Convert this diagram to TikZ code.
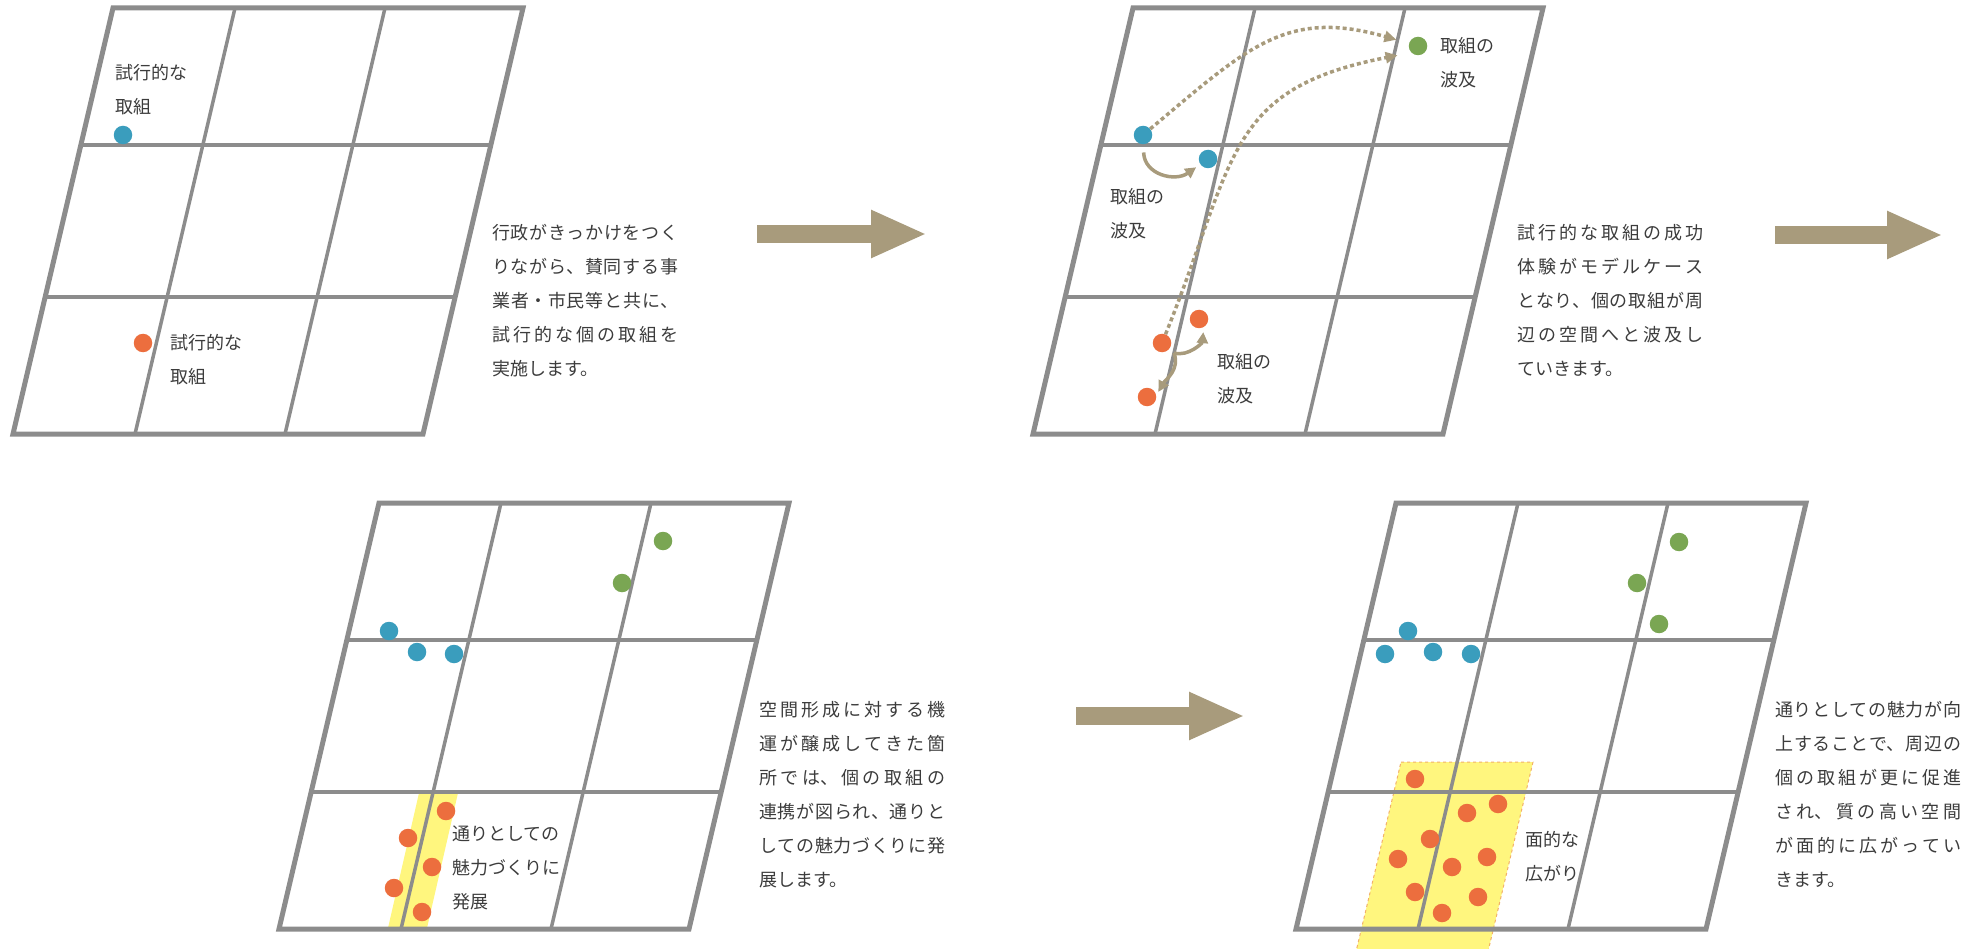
\documentclass[tikz,border=0pt]{standalone}
\usepackage{fontspec}
\usetikzlibrary{arrows.meta}
\newfontfamily\jpfont{Noto Sans CJK JP}
\XeTeXlinebreaklocale "ja"
\XeTeXlinebreakskip=0pt plus 4pt

\definecolor{gridgray}{HTML}{8C8C8C}
\definecolor{dotblue}{HTML}{3A9DBD}
\definecolor{dotorange}{HTML}{EC6E3E}
\definecolor{dotgreen}{HTML}{7AA653}
\definecolor{arrowtan}{HTML}{A89B7C}
\definecolor{bandyellow}{HTML}{FFF67E}
\definecolor{banddash}{HTML}{F2B06A}
\definecolor{textgray}{HTML}{3C3C3C}

\begin{document}
\begin{tikzpicture}[x=1pt, y=-1pt]
        \tikzstyle{grid_outer}=[draw=gridgray, line width=5pt, line join=miter];
        \tikzstyle{grid_inner}=[draw=gridgray, line width=3.5pt];
        \tikzstyle{dot_blue}=[circle, inner sep=0, minimum size=18.5pt, fill=dotblue];
        \tikzstyle{dot_orange}=[circle, inner sep=0, minimum size=18.5pt, fill=dotorange];
        \tikzstyle{dot_green}=[circle, inner sep=0, minimum size=18.5pt, fill=dotgreen];
        \tikzstyle{item_text}=[anchor=north west, inner sep=0, align=left, text=textgray, font=\jpfont\fontsize{18}{34}\selectfont];
        \tikzstyle{desc_text}=[anchor=north west, inner sep=0, text width=186pt, align=justify, text=textgray, font=\jpfont\fontsize{18}{34}\selectfont];
        \tikzstyle{big_arrow}=[line width=18pt, color=arrowtan, -{Triangle[length=56pt,width=44pt]}];
        \tikzstyle{spread_dotted}=[line width=3.5pt, color=arrowtan, dash pattern=on 4pt off 3pt, -{Triangle[length=12pt,width=11pt]}];
        \tikzstyle{spread_solid}=[line width=3.5pt, color=arrowtan, -{Triangle[length=11pt,width=11pt]}];

        \useasboundingbox (0,0) rectangle (1985,949);

        % yellow bands
        \fill[bandyellow] (419,793) -- (458,793) -- (427,928) -- (388,928) -- cycle;
        \filldraw[fill=bandyellow, draw=banddash, dashed, line width=1pt] (1401,762) -- (1533,762) -- (1486,960) -- (1354,960) -- cycle;

        % grids
        \foreach \px/\py in {113/8, 1133/8, 379/503, 1396/503}{
          \begin{scope}[shift={(\px,\py)}]
            \draw[grid_inner] (122,0) -- (22,426);
            \draw[grid_inner] (272,0) -- (172,426);
            \draw[grid_inner] (-32.2,137) -- (377.8,137);
            \draw[grid_inner] (-67.9,289) -- (342.1,289);
            \draw[grid_outer] (0,0) -- (410,0) -- (310,426) -- (-100,426) -- cycle;
          \end{scope}
        }

        % big arrows
        \coordinate (a1s) at (757,234);
        \coordinate (a1e) at (927,234);
        \coordinate (a2s) at (1775,235);
        \coordinate (a2e) at (1943,235);
        \coordinate (a3s) at (1076,716);
        \coordinate (a3e) at (1245,716);
        \draw[big_arrow] (a1s) -- (a1e);
        \draw[big_arrow] (a2s) -- (a2e);
        \draw[big_arrow] (a3s) -- (a3e);

        % panel 1
        \node[dot_blue] (b11) at (123,135) {};
        \node[dot_orange] (o11) at (143,343) {};
        \node[item_text] (t11) at (115,64) {試行的な\\取組};
        \node[item_text] (t12) at (170,334) {試行的な\\取組};
        \node[desc_text] (d1) at (492,224) {\noindent 行政がきっかけをつく\linebreak りながら、賛同する事\linebreak 業者・市民等と共に、\linebreak 試行的な個の取組を\linebreak 実施します。};

        % panel 2
        \node[dot_blue] (b21) at (1143,135) {};
        \node[dot_blue] (b22) at (1208,159) {};
        \node[dot_green] (g21) at (1418,46) {};
        \foreach \i/\x/\y in {1/1199/319, 2/1162/343, 3/1147/397}{
          \node[dot_orange] (o2\i) at (\x,\y) {};
        }
        \coordinate (fork) at (1174,353);
        \draw[spread_dotted, shorten >=13pt] (b21) to[out=40, in=164, looseness=1.2] (g21);
        \draw[spread_dotted, shorten >=14pt] (o22) to[out=68, in=191, looseness=1.3] (g21.225);
        \draw[spread_solid, shorten <=8pt, shorten >=5pt] (b21) to[out=-88, in=215, looseness=1.3] (b22);
        \draw[spread_solid, shorten >=5pt] (fork) to[out=-15, in=-95] (o21.-60);
        \draw[spread_solid, shorten >=4pt] (fork) to[out=-70, in=60] (o23.10);
        \node[item_text] (t21) at (1440,37) {取組の\\波及};
        \node[item_text] (t22) at (1110,188) {取組の\\波及};
        \node[item_text] (t23) at (1217,353) {取組の\\波及};
        \node[desc_text] (d2) at (1517,224) {\noindent 試行的な取組の成功\linebreak 体験がモデルケース\linebreak となり、個の取組が周\linebreak 辺の空間へと波及し\linebreak ていきます。};

        % panel 3
        \foreach \i/\x/\y in {1/663/541, 2/622/583}{
          \node[dot_green] (g3\i) at (\x,\y) {};
        }
        \foreach \i/\x/\y in {1/389/631, 2/417/652, 3/454/654}{
          \node[dot_blue] (b3\i) at (\x,\y) {};
        }
        \foreach \i/\x/\y in {1/446/811, 2/408/838, 3/432/867, 4/394/888, 5/422/912}{
          \node[dot_orange] (o3\i) at (\x,\y) {};
        }
        \node[item_text] (t31) at (452,826) {通りとしての\\魅力づくりに\\発展};
        \node[desc_text] (d3) at (759,701) {\noindent 空間形成に対する機\linebreak 運が醸成してきた箇\linebreak 所では、個の取組の\linebreak 連携が図られ、通りと\linebreak しての魅力づくりに発\linebreak 展します。};

        % panel 4
        \foreach \i/\x/\y in {1/1679/542, 2/1637/583, 3/1659/624}{
          \node[dot_green] (g4\i) at (\x,\y) {};
        }
        \foreach \i/\x/\y in {1/1408/631, 2/1385/654, 3/1433/652, 4/1471/654}{
          \node[dot_blue] (b4\i) at (\x,\y) {};
        }
        \foreach \i/\x/\y in {1/1415/779, 2/1498/804, 3/1467/813, 4/1430/839, 5/1398/859, 6/1487/857, 7/1452/867, 8/1415/892, 9/1478/897, 10/1442/913}{
          \node[dot_orange] (o4\i) at (\x,\y) {};
        }
        \node[item_text] (t41) at (1525,831) {面的な\\広がり};
        \node[desc_text] (d4) at (1775,701) {\noindent 通りとしての魅力が向\linebreak 上することで、周辺の\linebreak 個の取組が更に促進\linebreak され、質の高い空間\linebreak が面的に広がってい\linebreak きます。};
\end{tikzpicture}
\end{document}
